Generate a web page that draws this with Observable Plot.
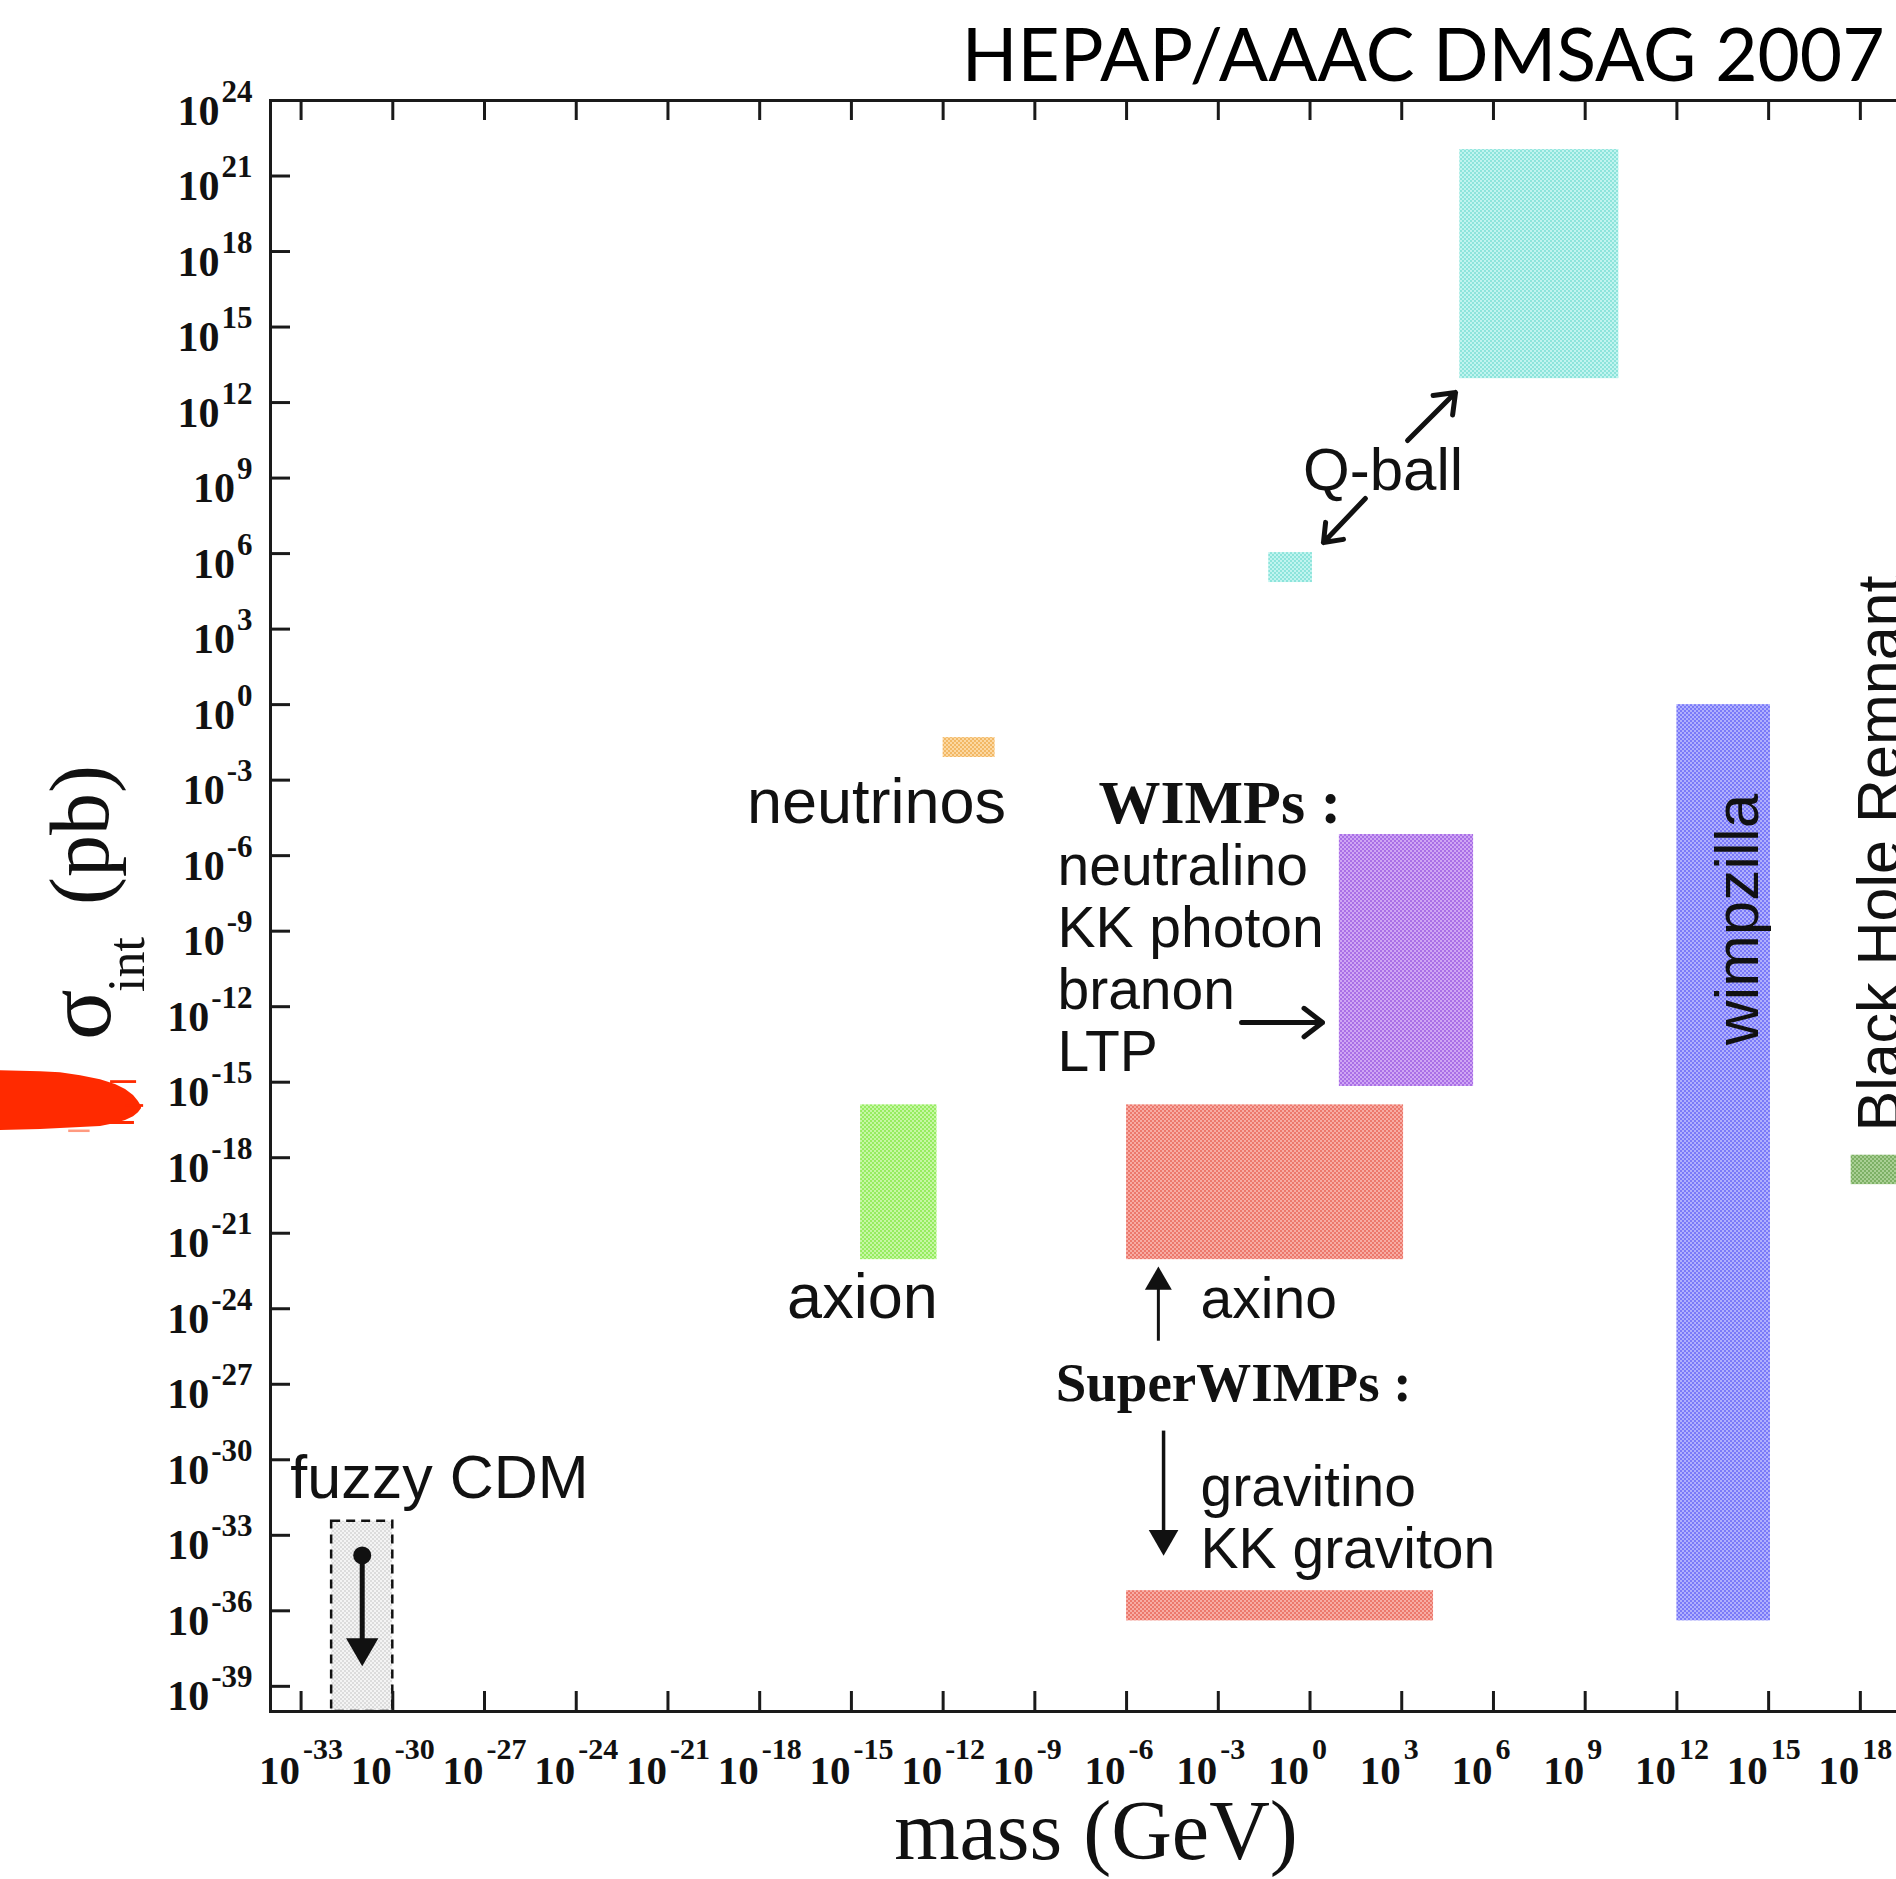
<!DOCTYPE html>
<html>
<head>
<meta charset="utf-8">
<script src="https://cdn.jsdelivr.net/npm/d3@7"></script>
<script src="https://cdn.jsdelivr.net/npm/@observablehq/plot@0.6"></script>
<style>
  html, body { margin: 0; padding: 0; background: #fff; overflow: hidden; }
  #chart { position: relative; width: 1896px; height: 1879px; overflow: hidden; }
</style>
</head>
<body>
<div id="chart"></div>
<script>
// Dark-matter candidates: log10 mass (GeV) vs log10 interaction cross-section (pb)
const regionIds    = ["qballHeavy", "qballLight", "neutrinos", "wimps", "axion", "axino", "gravitino", "wimpzilla", "bhRemnant", "fuzzy"];
const regionMassLo = [4.9, -1.35, -12.0, 0.96, -14.7, -6.0, -6.0, 12.0, 17.7, -32.0];
const regionMassHi = [10.1, 0.08, -10.3, 5.35, -12.2, 3.06, 4.04, 15.06, 19.5, -30.0];
const regionSigLo  = [12.95, 4.85, -2.1, -15.17, -22.05, -22.05, -36.4, -36.4, -19.07, -40.0];
const regionSigHi  = [22.05, 6.04, -1.31, -5.16, -15.9, -15.9, -35.2, 0.0, -17.9, -32.44];
const regionDark   = ["#8de4db", "#8de4db", "#f2b865", "#a96fe6", "#96ec60", "#ec786c", "#ec786c", "#7a7af8", "#7db065", "#dcdcdc"];
const regionLight  = ["#c0f4ef", "#c0f4ef", "#fcd8a2", "#cfa6f4", "#c6f7a4", "#f7aca4", "#f7aca4", "#b0b0fd", "#a9cf94", "#f4f4f4"];

// Axis ticks (exponents of ten)
const massTickExps  = d3.range(-33, 19, 3);
const sigmaTickExps = d3.range(-39, 25, 3);

// Region labels
const labelTexts  = ["Q-ball", "neutrinos", "WIMPs :", "neutralino\nKK photon\nbranon\nLTP", "axion", "axino", "SuperWIMPs :", "gravitino\nKK graviton", "fuzzy CDM", "wimpzilla", "Black Hole Remnant"];
const labelMass   = [2.39, -14.18, -6.92, -8.26, -14.64, -3.58, -8.32, -3.58, -33.35, 14.64, 19.31];
const labelSigma  = [8.51, -4.69, -4.69, -14.54, -24.35, -24.35, -27.65, -34.28, -31.5, -8.54, -16.96];
const labelSize   = [60, 63, 62, 57, 63, 57, 55, 57, 61, 62, 61];
const labelAnchor = ["middle", "middle", "start", "start", "middle", "start", "start", "start", "start", "middle", "start"];
const labelRotate = [0, 0, 0, 0, 0, 0, 0, 0, 0, -90, -90];
const labelBold   = [false, false, true, false, false, false, true, false, false, false, false];

// Open-headed pointer arrows (Q-ball pair, WIMP list)
const arrowMassFrom  = [3.19, 1.81, -2.24];
const arrowMassTo    = [4.76, 0.44, 0.41];
const arrowSigmaFrom = [10.49, 8.19, -12.63];
const arrowSigmaTo   = [12.40, 6.44, -12.63];

// Solid-headed pointers: axino (up), gravitino (down), fuzzy CDM (down, from a dot)
const pointerMass     = [-4.96, -4.79, -31.0];
const pointerSigFrom  = [-25.27, -28.84, -33.8];
const pointerSigTo    = [-23.2, -32.9, -37.2];
const pointerHeadSig  = [-22.94, -33.13, -37.46];
const pointerHeadRot  = [0, 180, 180];
const pointerHeadR    = [10, 11, 12];
const pointerWidth    = [3, 3.5, 5];

// Red brush highlight next to the 10^-15 level, with a few loose bristle streaks
const brushMass   = [-42.9, -41.52, -40.87, -40.21, -39.56, -39.07, -38.74, -38.48, -38.32, -38.22];
const brushTop    = [-14.54, -14.58, -14.62, -14.74, -14.90, -15.09, -15.29, -15.53, -15.77, -15.97];
const brushBottom = [-16.92, -16.88, -16.84, -16.80, -16.76, -16.64, -16.52, -16.37, -16.21, -16.05];
const streakMassLo = [-39.23, -38.74, -39.40, -40.6];
const streakMassHi = [-38.38, -38.15, -38.45, -39.9];
const streakSigTop = [-14.94, -15.89, -16.56, -16.90];
const streakSigBot = [-15.05, -16.00, -16.68, -17.00];

const pow = (e) => 10 ** e;
const expLabel = (e) => (e < 0 ? "-" + (-e) : String(e));
const serif = "'Liberation Serif', 'Times New Roman', serif";
const sans = "'Liberation Sans', Arial, sans-serif";
const ink = "#111";

const W = 1960, H = 1879, mL = 270, mR = 39, mT = 100, mB = 168;
const frameW = W - mL - mR, frameH = H - mT - mB;

const measure = document.createElement("canvas").getContext("2d");
function textWidth(str, size, weight) {
  measure.font = `${weight} ${size}px 'Liberation Serif'`;
  return measure.measureText(str).width;
}

const regions = regionIds.map((id, i) => ({
  id, x1: pow(regionMassLo[i]), x2: pow(regionMassHi[i]), y1: pow(regionSigLo[i]), y2: pow(regionSigHi[i])
}));

const brush = brushMass.map((m, i) => ({x: pow(m), y1: pow(brushTop[i]), y2: pow(brushBottom[i])}));
const streaks = streakMassLo.map((m, i) => ({x1: pow(m), x2: pow(streakMassHi[i]), y1: pow(streakSigTop[i]), y2: pow(streakSigBot[i])}));

const expSize = 31, baseSize = 42;        // y tick labels
const xExpSize = 30, xBaseSize = 41;      // x tick labels

const marks = [
  // brush highlight
  Plot.areaY(brush, {x: "x", y1: "y1", y2: "y2", fill: "#ff2a00"}),
  Plot.rect(streaks, {x1: "x1", x2: "x2", y1: "y1", y2: "y2", fill: (d, i) => (i === 3 ? "#ff9a80" : "#ff2a00")}),
  // candidate regions
  ...regions.map((r) => Plot.rect([r], {
    x1: "x1", x2: "x2", y1: "y1", y2: "y2",
    fill: `url(#pat-${r.id})`,
    ...(r.id === "fuzzy" ? {stroke: ink, strokeWidth: 2.5, strokeDasharray: "9,6"} : {})
  })),
  // frame and inward ticks
  Plot.frame({stroke: "#1a1a1a", strokeWidth: 3}),
  Plot.tickX(massTickExps, {x: pow, insetTop: frameH - 20, stroke: "#1a1a1a", strokeWidth: 3}),
  Plot.tickX(massTickExps, {x: pow, insetBottom: frameH - 20, stroke: "#1a1a1a", strokeWidth: 3}),
  Plot.tickY(sigmaTickExps, {y: pow, insetRight: frameW - 20, stroke: "#1a1a1a", strokeWidth: 3}),
  // x tick labels: "10" ending at the tick, exponent raised after it
  Plot.text(massTickExps, {x: pow, text: () => "10", frameAnchor: "bottom", textAnchor: "end", lineAnchor: "bottom",
    dy: 72, dx: -1, fontSize: xBaseSize, fontFamily: serif, fontWeight: "bold", fill: ink}),
  Plot.text(massTickExps, {x: pow, text: expLabel, frameAnchor: "bottom", textAnchor: "start", lineAnchor: "bottom",
    dy: 47, dx: 2, fontSize: xExpSize, fontFamily: serif, fontWeight: "bold", fill: ink}),
  // y tick labels, right-aligned as a whole
  Plot.text(sigmaTickExps, {y: pow, text: expLabel, frameAnchor: "left", textAnchor: "end", lineAnchor: "bottom",
    dx: -18, dy: 1, fontSize: expSize, fontFamily: serif, fontWeight: "bold", fill: ink}),
  ...sigmaTickExps.map((e) => Plot.text([e], {y: pow, text: () => "10", frameAnchor: "left", textAnchor: "end", lineAnchor: "bottom",
    dx: -20 - textWidth(expLabel(e), expSize, "bold"), dy: 24, fontSize: baseSize, fontFamily: serif, fontWeight: "bold", fill: ink})),
  // axis titles
  Plot.text(["mass (GeV)"], {text: (d) => d, frameAnchor: "bottom", lineAnchor: "bottom", dy: 147, fontSize: 84, fontFamily: serif, fill: ink}),
  Plot.text(["σ"], {text: (d) => d, frameAnchor: "left", textAnchor: "start", lineAnchor: "bottom", rotate: -90,
    dx: -161, dy: 134, fontSize: 94, fontFamily: serif, fill: ink}),
  Plot.text(["int"], {text: (d) => d, frameAnchor: "left", textAnchor: "start", lineAnchor: "bottom", rotate: -90,
    dx: -127, dy: 86, fontSize: 52, fontFamily: serif, fill: ink}),
  Plot.text(["(pb)"], {text: (d) => d, frameAnchor: "left", textAnchor: "start", lineAnchor: "bottom", rotate: -90,
    dx: -163, dy: -1, fontSize: 84, fontFamily: serif, fill: ink}),
  // title
  Plot.text(["HEPAP/AAAC DMSAG 2007"], {text: (d) => d, frameAnchor: "top-right", textAnchor: "end", lineAnchor: "bottom",
    dx: -37, dy: -20, fontSize: 73, fontFamily: "Lato, 'Open Sans', sans-serif", fill: "#000"}),
  // region labels
  ...labelTexts.map((t, i) => Plot.text([i], {
    x: () => pow(labelMass[i]), y: () => pow(labelSigma[i]), text: () => t,
    textAnchor: labelAnchor[i], lineAnchor: "bottom", rotate: labelRotate[i], lineHeight: 1.085,
    fontSize: labelSize[i], fontFamily: labelBold[i] ? serif : sans, fontWeight: labelBold[i] ? "bold" : "normal", fill: ink
  })),
  // open arrows
  Plot.arrow(arrowMassFrom.map((m, i) => i), {
    x1: (i) => pow(arrowMassFrom[i]), x2: (i) => pow(arrowMassTo[i]),
    y1: (i) => pow(arrowSigmaFrom[i]), y2: (i) => pow(arrowSigmaTo[i]),
    stroke: ink, strokeWidth: 5, headLength: 7, headAngle: 75
  }),
  // solid-headed pointers
  ...pointerMass.map((m, i) => Plot.link([i], {
    x1: () => pow(m), x2: () => pow(m), y1: () => pow(pointerSigFrom[i]), y2: () => pow(pointerSigTo[i]),
    stroke: ink, strokeWidth: pointerWidth[i]
  })),
  ...pointerMass.map((m, i) => Plot.dot([i], {
    x: () => pow(m), y: () => pow(pointerHeadSig[i]), symbol: "triangle", r: pointerHeadR[i], rotate: pointerHeadRot[i], fill: ink
  })),
  Plot.dot([0], {x: () => pow(pointerMass[2]), y: () => pow(pointerSigFrom[2]), r: 9, fill: ink})
];

const svg = Plot.plot({
  width: W, height: H,
  marginLeft: mL, marginRight: mR, marginTop: mT, marginBottom: mB,
  x: {type: "log", domain: [1e-34, 1e20], axis: null},
  y: {type: "log", domain: [1e-40, 1e24], axis: null},
  style: {maxWidth: "none", background: "#fff", overflow: "visible"},
  marks
});

// checkered halftone fills for the regions
const NS = "http://www.w3.org/2000/svg";
function el(name, attrs) {
  const e = document.createElementNS(NS, name);
  for (const k in attrs) e.setAttribute(k, attrs[k]);
  return e;
}
const defs = el("defs", {});
regionIds.forEach((id, i) => {
  const p = el("pattern", {id: `pat-${id}`, width: 4, height: 4, patternUnits: "userSpaceOnUse"});
  p.append(
    el("rect", {width: 4, height: 4, fill: regionDark[i]}),
    el("rect", {x: 0, y: 0, width: 2, height: 2, fill: regionLight[i]}),
    el("rect", {x: 2, y: 2, width: 2, height: 2, fill: regionLight[i]})
  );
  defs.append(p);
});
svg.insertBefore(defs, svg.firstChild);

document.getElementById("chart").append(svg);
</script>
</body>
</html>
